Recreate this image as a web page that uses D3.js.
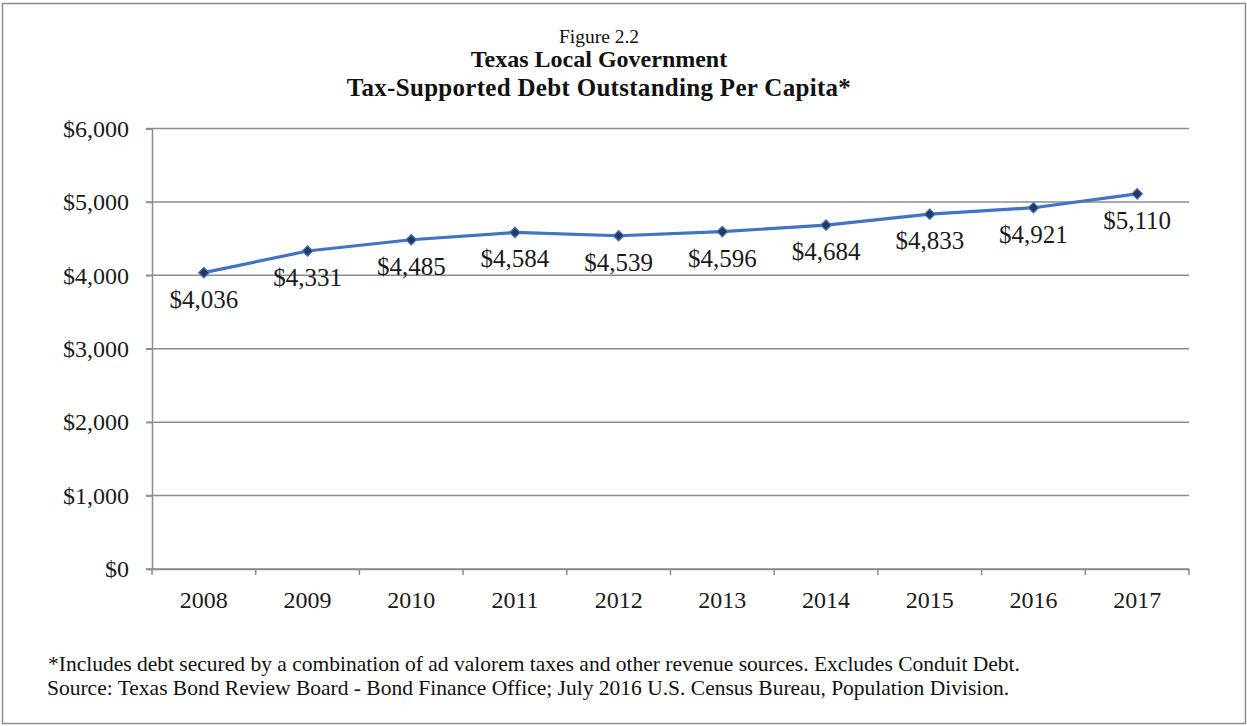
<!DOCTYPE html>
<html>
<head>
<meta charset="utf-8">
<script src="https://cdn.jsdelivr.net/npm/d3@7"></script>
<style>
  html, body { margin: 0; padding: 0; background: #ffffff; }
  svg { display: block; font-family: "Liberation Serif", "Times New Roman", serif; }
</style>
</head>
<body>
<svg id="chart" width="1247" height="726"></svg>
<script>
// Per-capita tax-supported local debt, Texas
const years = ["2008", "2009", "2010", "2011", "2012", "2013", "2014", "2015", "2016", "2017"];
const debtPerCapita = [4036, 4331, 4485, 4584, 4539, 4596, 4684, 4833, 4921, 5110];
const yTicks = [0, 1000, 2000, 3000, 4000, 5000, 6000];

const titleLines = [
  "Figure 2.2",
  "Texas Local Government",
  "Tax-Supported Debt Outstanding Per Capita*"
];
const footnotes = [
  "*Includes debt secured by a combination of ad valorem taxes and other revenue sources. Excludes Conduit Debt.",
  "Source: Texas Bond Review Board - Bond Finance Office; July 2016 U.S. Census Bureau, Population Division."
];

const W = 1247, H = 726;
const plot = { left: 152, right: 1189, top: 128.5, bottom: 569 };

const svg = d3.select("#chart");

// outer frame
svg.append("rect")
  .attr("x", 2.5).attr("y", 3.5)
  .attr("width", W - 4).attr("height", H - 6)
  .attr("fill", "#ffffff")
  .attr("stroke", "#8c8c8c")
  .attr("stroke-width", 1.5);

const x = d3.scaleBand().domain(years).range([plot.left, plot.right]);
const y = d3.scaleLinear().domain([0, 6000]).range([plot.bottom, plot.top]);
const money = d3.format("$,.0f");

// horizontal gridlines
svg.append("g")
  .selectAll("line")
  .data(yTicks)
  .join("line")
  .attr("x1", plot.left - 6).attr("x2", plot.right)
  .attr("y1", d => y(d)).attr("y2", d => y(d))
  .attr("stroke", "#8c8c8c")
  .attr("stroke-width", 1.5);

// y axis
const yAxis = svg.append("g")
  .attr("transform", `translate(${plot.left},0)`)
  .call(d3.axisLeft(y).tickValues(yTicks).tickFormat(money).tickSize(6).tickPadding(17));
yAxis.select(".domain").attr("stroke", "#8c8c8c").attr("stroke-width", 1.5);
yAxis.selectAll(".tick line").attr("stroke", "#8c8c8c").attr("stroke-width", 1.5);
yAxis.selectAll(".tick text")
  .attr("fill", "#1a1a1a")
  .style("font-size", "24px")
  .style("font-family", "Liberation Serif, serif");

// x axis: category boundaries carry the tick marks
const xAxis = svg.append("g")
  .attr("transform", `translate(0,${plot.bottom})`)
  .call(d3.axisBottom(x).tickSize(0).tickPadding(22));
xAxis.select(".domain").attr("stroke", "#8c8c8c").attr("stroke-width", 1.5);
xAxis.selectAll(".tick text")
  .attr("fill", "#1a1a1a")
  .style("font-size", "24px")
  .style("font-family", "Liberation Serif, serif");
xAxis.append("g")
  .selectAll("line")
  .data(years.map(d => x(d)).concat([x(years[years.length - 1]) + x.bandwidth()]))
  .join("line")
  .attr("x1", d => d).attr("x2", d => d)
  .attr("y1", 0).attr("y2", 6)
  .attr("stroke", "#8c8c8c")
  .attr("stroke-width", 1.5);

// series line
const cx = d => x(d) + x.bandwidth() / 2;
const line = d3.line()
  .x((d, i) => cx(years[i]))
  .y(d => y(d));

svg.append("path")
  .datum(debtPerCapita)
  .attr("d", line)
  .attr("fill", "none")
  .attr("stroke", "#4472c4")
  .attr("stroke-width", 3.2)
  .attr("stroke-linejoin", "round");

// diamond markers
svg.append("g")
  .selectAll("path")
  .data(debtPerCapita)
  .join("path")
  .attr("transform", (d, i) => `translate(${cx(years[i])},${y(d)})`)
  .attr("d", d3.symbol().type(d3.symbolDiamond2).size(70))
  .attr("fill", "#23395d")
  .attr("stroke", "#4472c4")
  .attr("stroke-width", 1.2);

// value labels below each point
svg.append("g")
  .selectAll("text")
  .data(debtPerCapita)
  .join("text")
  .attr("x", (d, i) => cx(years[i]))
  .attr("y", d => y(d) + 35)
  .attr("text-anchor", "middle")
  .attr("fill", "#1a1a1a")
  .style("font-size", "25px")
  .text(d => money(d));

// titles
const titleX = 599;
svg.append("text")
  .attr("x", titleX).attr("y", 43)
  .attr("text-anchor", "middle")
  .attr("fill", "#111")
  .style("font-size", "19.5px")
  .text(titleLines[0]);
svg.append("text")
  .attr("x", titleX).attr("y", 67)
  .attr("text-anchor", "middle")
  .attr("fill", "#111")
  .style("font-size", "24px")
  .style("font-weight", "bold")
  .text(titleLines[1]);
svg.append("text")
  .attr("x", titleX).attr("y", 96)
  .attr("text-anchor", "middle")
  .attr("fill", "#111")
  .style("font-size", "25px")
  .style("letter-spacing", "0.3px")
  .style("font-weight", "bold")
  .text(titleLines[2]);

// footnotes
svg.append("g")
  .selectAll("text")
  .data(footnotes)
  .join("text")
  .attr("x", (d, i) => i === 0 ? 48 : 47)
  .attr("y", (d, i) => 671 + i * 24)
  .attr("fill", "#111")
  .style("font-size", "21.5px")
  .text(d => d);
</script>
</body>
</html>
